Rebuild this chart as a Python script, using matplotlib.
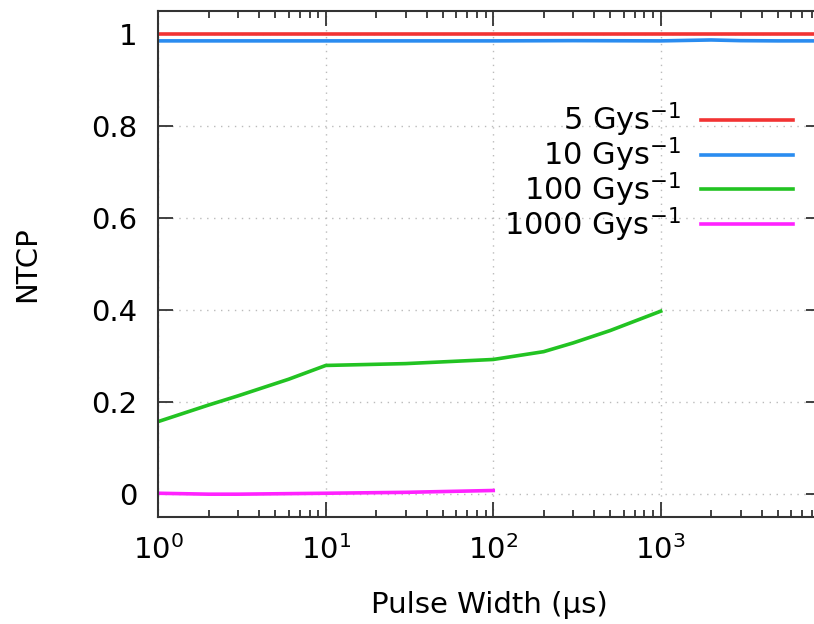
import matplotlib
matplotlib.use("Agg")
import matplotlib.pyplot as plt
from matplotlib.ticker import LogLocator, NullFormatter

# pulse widths (us) and NTCP per dose rate
x_5 = [1, 10, 100, 1000, 10000]
ntcp_5 = [0.999, 0.999, 0.999, 0.999, 0.999]

x_10 = [1, 10, 100, 300, 1000, 2000, 3000, 5000, 10000]
ntcp_10 = [0.985, 0.985, 0.985, 0.9855, 0.985, 0.987, 0.9855, 0.985, 0.985]

x_100 = [1, 2, 3, 6, 10, 30, 100, 200, 300, 500, 1000]
ntcp_100 = [0.157, 0.193, 0.213, 0.249, 0.279, 0.283, 0.292, 0.309, 0.328, 0.355, 0.397]

x_1000 = [1, 2, 3, 10, 30, 100]
ntcp_1000 = [0.001, -0.001, -0.001, 0.001, 0.003, 0.007]

labels = ["5 Gys$^{-1}$", "10 Gys$^{-1}$", "100 Gys$^{-1}$", "1000 Gys$^{-1}$"]
colors = ["#f23333", "#2a8cf0", "#22c322", "#ff22ff"]

plt.rcParams["mathtext.default"] = "regular"
plt.rcParams["font.size"] = 21

fig = plt.figure(figsize=(8.14, 6.24), dpi=100)
# axes run a bit past the right edge, like the cropped original
ax = fig.add_axes([158.3 / 814, 1 - 516.7 / 624, (820.5 - 158.3) / 814, (516.7 - 11) / 624])

series = [(x_5, ntcp_5), (x_10, ntcp_10), (x_100, ntcp_100), (x_1000, ntcp_1000)]
for (xs, ys), lab, c in zip(series, labels, colors):
    ax.plot(xs, ys, color=c, lw=2.6, label=lab)

ax.set_xscale("log")
ax.set_xlim(1, 9000)
ax.set_ylim(-0.05, 1.05)
ax.set_yticks([0, 0.2, 0.4, 0.6, 0.8, 1])
ax.set_yticklabels(["0", "0.2", "0.4", "0.6", "0.8", "1"])
ax.xaxis.set_major_locator(LogLocator(base=10, numticks=10))
ax.xaxis.set_minor_locator(LogLocator(base=10, subs=range(2, 10), numticks=20))
ax.xaxis.set_minor_formatter(NullFormatter())

ax.tick_params(which="both", direction="in", top=True, right=True, color="#333333", width=1.3)
ax.tick_params(which="major", length=10.5)
ax.tick_params(which="minor", length=5)
ax.tick_params(axis="x", which="major", pad=13)
ax.tick_params(axis="y", which="major", pad=15)
for sp in ax.spines.values():
    sp.set_color("#333333")
    sp.set_linewidth(1.5)

ax.grid(True, which="major", linestyle=(0, (1, 4)), color="#bbbbbb", lw=1)

ax.set_xlabel("Pulse Width (μs)", labelpad=19)
ax.set_ylabel("NTCP", labelpad=36)

ax.legend(loc="upper right", bbox_to_anchor=(0.958, 0.823), frameon=False,
          markerfirst=False, handlelength=3.0, handletextpad=0.65,
          labelspacing=-0.12, borderpad=0, borderaxespad=0, fontsize=22)

fig.savefig("out.png", dpi=100)
